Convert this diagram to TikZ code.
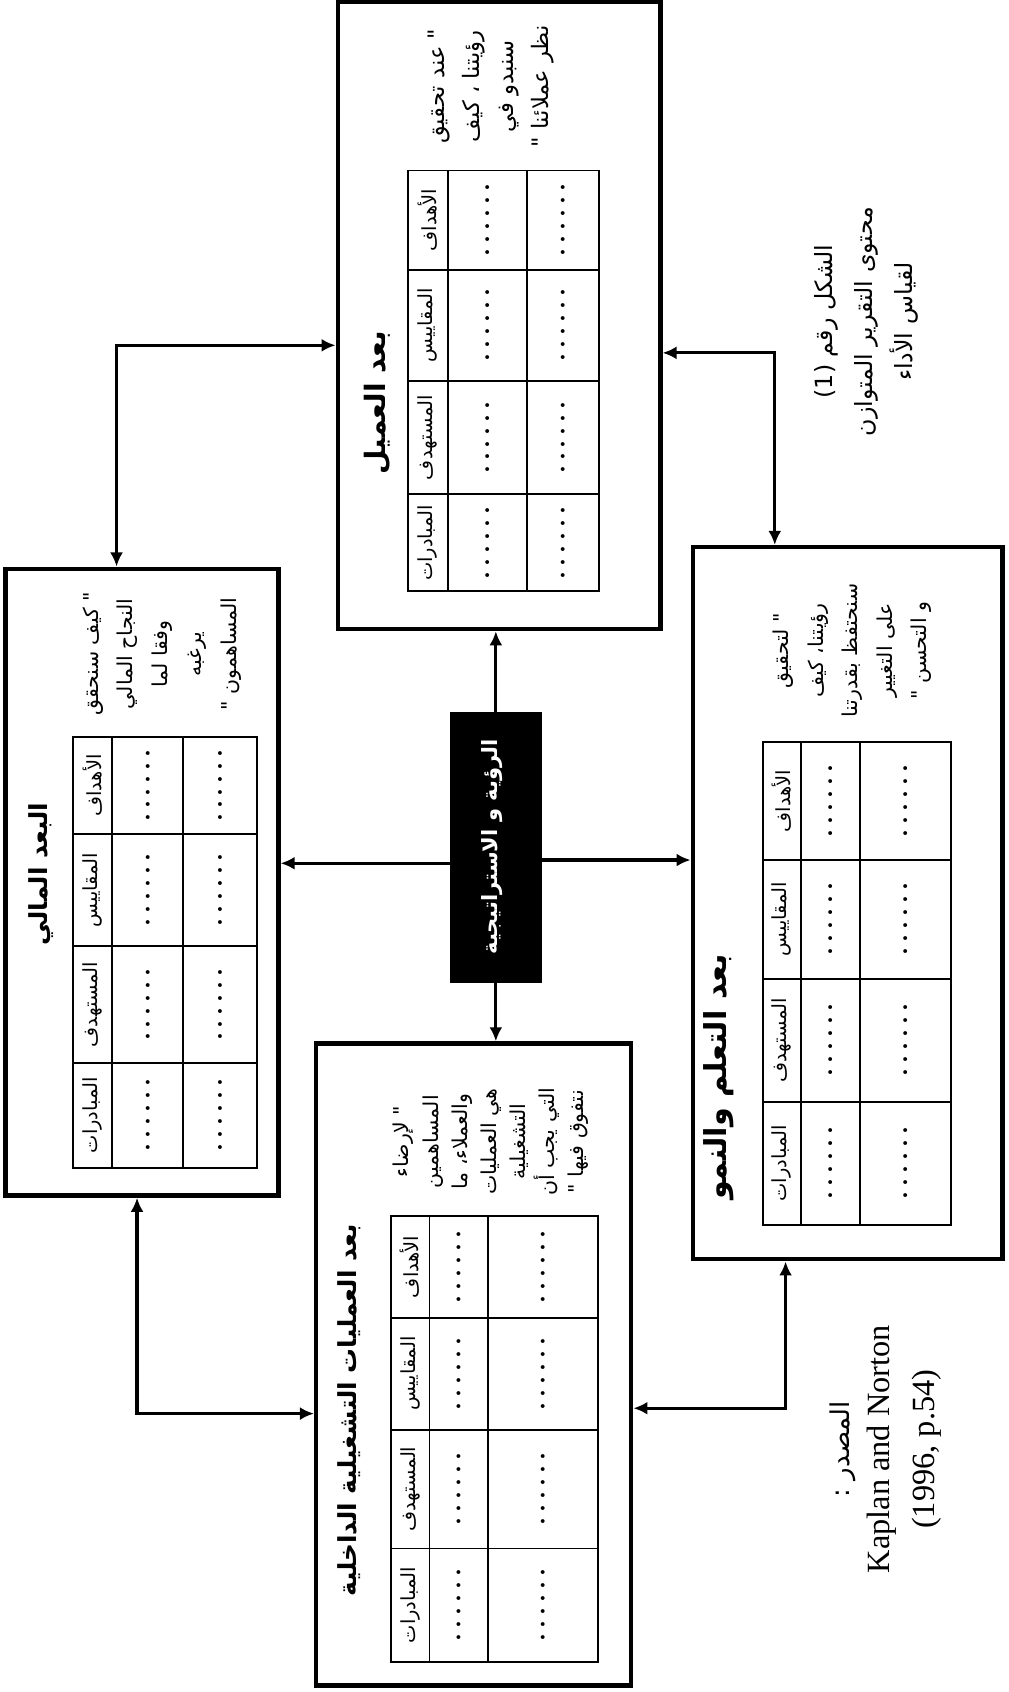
\documentclass[tikz,border=0pt]{standalone}
\usepackage{fontspec}
\setmainfont{Liberation Serif}
\newfontfamily\arabicfont[Script=Arabic]{DejaVu Sans}
\TeXXeTstate=1
\usetikzlibrary{arrows.meta,calc}
\newcommand\artxt[1]{{\arabicfont\beginR #1\endR}}
\newcommand\sixdots{.\kern6.5pt.\kern6.5pt.\kern6.5pt.\kern6.5pt.\kern6.5pt.}
\newcommand\setrows[5]{\def\ya{#1}\def\yb{#2}\def\yc{#3}\def\yd{#4}\def\ye{#5}}
\newcommand\scoretable[5]{%
  \draw[tabline] (#2,\ya) rectangle (#5,\ye);
  \draw[tabline] (#3,\ya) -- (#3,\ye) (#4,\ya) -- (#4,\ye);
  \draw[tabline] (#2,\yb) -- (#5,\yb) (#2,\yc) -- (#5,\yc) (#2,\yd) -- (#5,\yd);
  \foreach \ytop/\ybot/\lab/\k in {\ya/\yb/الأهداف/1,\yb/\yc/المقاييس/2,\yc/\yd/المستهدف/3,\yd/\ye/المبادرات/4}{
    \node[hdr] (#1h\k) at ({(#2+#3)/2},{(\ytop+\ybot)/2}) {\artxt{\lab}};
    \node[dotcell] (#1a\k) at ({(#3+#4)/2},{(\ytop+\ybot)/2}) {\sixdots};
    \node[dotcell] (#1b\k) at ({(#4+#5)/2},{(\ytop+\ybot)/2}) {\sixdots};
  }
}
\tikzset{
  panel/.style={draw, line width=4pt, fill=white, inner sep=0pt},
  tabline/.style={line width=1.8pt},
  hdr/.style={rotate=90, font=\fontsize{18}{19}\selectfont, inner sep=0pt},
  dotcell/.style={rotate=90, font=\fontsize{22}{22}\selectfont\bfseries, inner sep=0pt},
  ptitle/.style={rotate=90, inner sep=0pt},
  qtext/.style={rotate=90, align=center, font=\fontsize{19}{32}\selectfont, inner sep=0pt},
  conn/.style={line width=3pt, -{Latex[length=13pt,width=12pt]}},
  dconn/.style={line width=3pt, {Latex[length=13pt,width=12pt]}-{Latex[length=13pt,width=12pt]}},
}
\begin{document}
\begin{tikzpicture}[x=1pt,y=-1pt]
\fill[white] (0,0) rectangle (935,1568);
\useasboundingbox (0,0) rectangle (935,1568);

% panels
\node[panel, minimum width=253pt, minimum height=581pt] (fin) at (131.5,817.5) {};
\node[panel, minimum width=299pt, minimum height=581pt] (cust) at (462.5,292.5) {};
\node[panel, minimum width=292pt, minimum height=595pt] (int) at (439,1264.5) {};
\node[panel, minimum width=287pt, minimum height=660pt] (learn) at (785.5,837) {};
\node[draw, fill=black, minimum width=85pt, minimum height=250pt, inner sep=0pt] (vis) at (459.5,785) {};
\node[rotate=90, text=white, font=\fontsize{19.5}{22}\selectfont\bfseries] (vist) at (456,785) {\artxt{الرؤية و الاستراتيجية}};

% tables
\setrows{683}{773}{877}{985}{1082}
\scoretable{fin}{68}{104}{170}{238}
\setrows{158}{250}{353}{458}{548}
\scoretable{cust}{378}{415}{488}{555}
\setrows{1127}{1221}{1325}{1435}{1540}
\scoretable{int}{362}{398}{452}{554}
\setrows{688}{797}{907}{1021}{1135}
\scoretable{learn}{707}{742}{797}{881}

% titles
\node[ptitle, font=\fontsize{23}{26}\selectfont\bfseries] (fint) at (38,810) {\artxt{البعد المالي}};
\node[ptitle, font=\fontsize{26}{28}\selectfont\bfseries] (custt) at (350,373) {\artxt{بعد العميل}};
\node[ptitle, font=\fontsize{23}{26}\selectfont\bfseries] (intt) at (324,1307) {\artxt{بعد العمليات التشغيلية الداخلية}};
\node[ptitle, font=\fontsize{28}{28}\selectfont\bfseries] (learnt) at (666,998) {\artxt{بعد التعلم والنمو}};

% quotes
\node[qtext, font=\fontsize{21}{32}\selectfont] (custq) at (455,80) {\artxt{" عند تحقيق}\\\artxt{رؤيتنا ، كيف}\\\artxt{سنبدو في}\\\artxt{نظر عملائنا "}};
\node[qtext] (finq) at (150,606) {\artxt{" كيف سنحقق}\\\artxt{النجاح المالي}\\\artxt{وفقا لما}\\\artxt{يرغبه}\\\artxt{المساهمون "}};
\node[qtext, font=\fontsize{19}{27}\selectfont] (intq) at (455,1058) {\artxt{" لإرضاء}\\\artxt{المساهمين}\\\artxt{والعملاء، ما}\\\artxt{هي العمليات}\\\artxt{التشغيلية}\\\artxt{التي يجب أن}\\\artxt{نتفوق فيها "}};
\node[qtext] (learnq) at (790,603) {\artxt{" لتحقيق}\\\artxt{رؤيتنا، كيف}\\\artxt{سنحتفظ بقدرتنا}\\\artxt{على التغيير}\\\artxt{و التحسن "}};

% caption and source
\node[qtext, font=\fontsize{22}{37}\selectfont] (cap) at (803,298) {\artxt{الشكل رقم \beginL(1)\endL}\\\artxt{محتوى التقرير المتوازن}\\\artxt{لقياس الأداء}};
\node[rotate=90, font=\fontsize{24}{26}\selectfont, inner sep=0pt] (srca) at (781,1343) {\artxt{المصدر :}};
\node[rotate=90, align=center, font=\fontsize{30}{42}\selectfont, inner sep=0pt] (srcb) at (838,1343) {Kaplan and Norton\\(1996, p.54)};

% connectors from vision
\draw[conn] (vis.north) -- (vis.north |- cust.south);
\draw[conn] (vis.south) -- (vis.south |- int.north);
\draw[conn] (vis.west |- 0,800) -- (fin.east |- 0,800);
\draw[conn] (vis.east |- 0,797) -- (learn.west |- 0,797);

% double connectors
\draw[dconn] (108,0 |- fin.north) |- (cust.west |- 0,320);
\draw[dconn] (cust.east |- 0,327) -| (718,0 |- learn.north);
\draw[dconn] (728,0 |- learn.south) |- (int.east |- 0,1305);
\draw[dconn] (int.west |- 0,1310) -| (127,0 |- fin.south);
\end{tikzpicture}
\end{document}
